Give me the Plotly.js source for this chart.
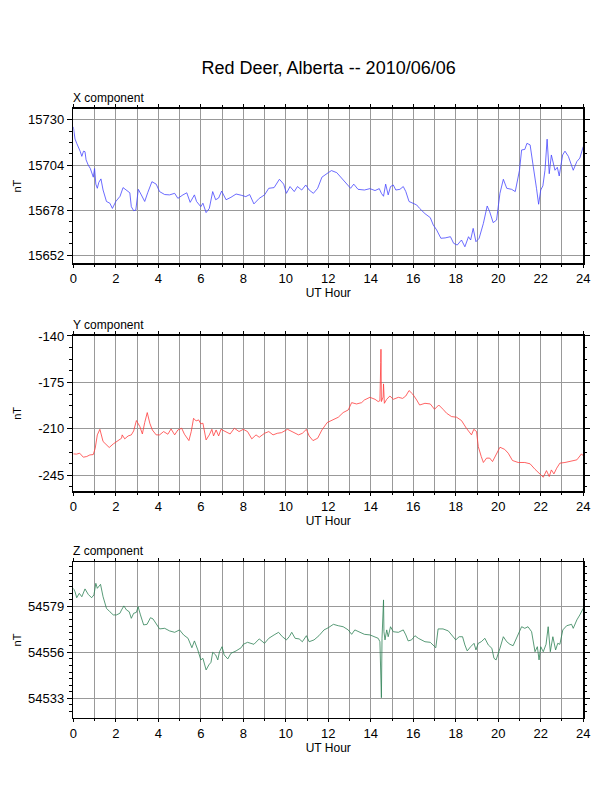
<!DOCTYPE html>
<html>
<head>
<meta charset="utf-8">
<script src="https://cdn.plot.ly/plotly-3.0.1.min.js"></script>
<style>
  body { margin: 0; background: #fff; }
  #plot { width: 612px; height: 792px; }
</style>
</head>
<body>
<div id="plot"></div>
<script>
// values, hour of day (UT) vs nT

// X component
let xHours = [0, 0.08, 0.16, 0.24, 0.32, 0.4, 0.48, 0.55, 0.6, 0.7, 0.8, 0.94, 1.0, 1.06, 1.13, 1.2, 1.3, 1.4, 1.56, 1.72, 1.84, 2.0, 2.2, 2.34, 2.5, 2.66, 2.73, 2.84, 2.94, 3.06, 3.2, 3.36, 3.5, 3.7, 3.9, 4.06, 4.3, 4.53, 4.77, 4.92, 5.16, 5.34, 5.5, 5.7, 5.8, 6.0, 6.1, 6.25, 6.4, 6.56, 6.7, 6.84, 6.98, 7.19, 7.42, 7.66, 7.9, 8.12, 8.3, 8.5, 8.75, 9.0, 9.2, 9.45, 9.7, 9.9, 10.03, 10.2, 10.4, 10.55, 10.75, 10.94, 11.1, 11.3, 11.5, 11.7, 12.0, 12.15, 12.4, 12.6, 12.86, 13.05, 13.2, 13.4, 13.7, 13.96, 14.2, 14.4, 14.5, 14.6, 14.7, 14.82, 14.93, 15.06, 15.18, 15.37, 15.53, 15.65, 15.8, 16.0, 16.16, 16.3, 16.55, 16.8, 16.94, 17.1, 17.3, 17.5, 17.75, 17.9, 18.07, 18.27, 18.43, 18.6, 18.7, 18.82, 18.95, 19.1, 19.3, 19.48, 19.6, 19.76, 19.92, 20.08, 20.24, 20.4, 20.63, 20.8, 20.9, 21.0, 21.1, 21.25, 21.35, 21.5, 21.65, 21.73, 21.8, 21.9, 22.0, 22.1, 22.2, 22.3, 22.4, 22.5, 22.67, 22.78, 22.87, 23.03, 23.14, 23.3, 23.53, 23.7, 23.84, 24.0];
let xValues = [15726, 15719, 15716.5, 15714.6, 15712, 15709, 15712, 15711.7, 15707, 15704, 15702, 15697, 15702, 15693, 15690.6, 15694, 15696, 15689.6, 15683, 15682, 15679, 15683, 15686, 15691, 15689.6, 15688, 15680, 15677.7, 15678, 15690, 15686.8, 15683, 15688, 15694.4, 15693, 15688.7, 15687, 15686.8, 15687.7, 15684.8, 15686.8, 15688, 15682.5, 15686.8, 15683, 15680, 15682, 15676.6, 15679, 15688.7, 15684, 15685, 15689, 15684, 15685.4, 15687.3, 15686.6, 15685.8, 15687, 15681.6, 15684.8, 15686.8, 15690.6, 15691, 15695.8, 15693, 15687.7, 15691.6, 15688.7, 15691.6, 15689.6, 15692.5, 15689.6, 15687.7, 15690.6, 15697, 15699.6, 15700.8, 15699.6, 15697, 15693.5, 15690.6, 15693, 15690, 15689.6, 15690.4, 15689.3, 15690.4, 15687.7, 15686, 15693, 15686.8, 15691.6, 15692.5, 15689.6, 15690, 15691.6, 15688.7, 15683, 15682, 15681, 15679, 15676, 15673.7, 15669.5, 15666.6, 15661.8, 15662, 15662.7, 15658.9, 15657.9, 15660.8, 15656.9, 15662.7, 15660.8, 15667.5, 15659.8, 15661.8, 15670.4, 15680.4, 15677, 15670.8, 15672.3, 15687.7, 15695.8, 15690.6, 15690, 15688.7, 15695.8, 15701, 15712.7, 15713, 15716.5, 15715.6, 15703, 15694.4, 15690.6, 15681.4, 15689.6, 15692, 15701, 15718.9, 15699, 15709.8, 15701, 15702.7, 15697.7, 15709.8, 15712, 15709, 15701, 15706, 15708, 15714.6];

// Y component
let yHours = [0, 0.15, 0.3, 0.47, 0.63, 0.78, 0.94, 1.03, 1.13, 1.25, 1.4, 1.56, 1.69, 1.88, 2.1, 2.27, 2.3, 2.42, 2.58, 2.73, 2.84, 2.97, 3.13, 3.25, 3.36, 3.48, 3.6, 3.72, 3.9, 4.06, 4.25, 4.45, 4.6, 4.77, 4.92, 5.1, 5.23, 5.44, 5.55, 5.66, 5.78, 5.9, 6.0, 6.1, 6.25, 6.4, 6.52, 6.6, 6.72, 6.84, 6.95, 7.19, 7.38, 7.58, 7.8, 8.0, 8.2, 8.4, 8.6, 8.75, 9.0, 9.2, 9.4, 9.6, 9.8, 10.08, 10.3, 10.6, 10.78, 10.97, 11.1, 11.28, 11.5, 11.7, 11.95, 12.24, 12.47, 12.7, 12.94, 13.1, 13.33, 13.57, 13.7, 13.96, 14.2, 14.35, 14.43, 14.47, 14.48, 14.5, 14.58, 14.6, 14.64, 14.75, 14.9, 15.06, 15.3, 15.5, 15.65, 15.8, 15.97, 16.16, 16.3, 16.55, 16.8, 17.0, 17.2, 17.4, 17.57, 17.8, 18.04, 18.27, 18.5, 18.74, 18.85, 18.98, 19.06, 19.2, 19.3, 19.45, 19.6, 19.73, 19.9, 20.08, 20.3, 20.47, 20.67, 20.94, 21.25, 21.5, 21.73, 21.96, 22.12, 22.27, 22.4, 22.5, 22.62, 22.75, 22.9, 23.14, 23.37, 23.7, 23.92, 24.0];
let yValues = [-228.8, -229, -228.3, -231.3, -230.8, -229.6, -229.3, -224.6, -214.5, -210.3, -219.5, -222, -224, -221.3, -218.8, -217, -214.5, -217.5, -215.3, -214.5, -211.5, -203.7, -208.2, -213.8, -205.2, -197.7, -205.7, -210.8, -214.5, -214.5, -212, -214, -210, -214.5, -210.8, -209.5, -214, -218.8, -212, -202, -204, -203.2, -206.2, -205.7, -218.3, -214.5, -210.3, -215.3, -210.8, -215.3, -210.3, -212, -213.8, -209.5, -212, -210.3, -212, -217.5, -214.5, -216.3, -213.3, -212, -214.5, -213.3, -212.8, -210.3, -212, -214.5, -213.3, -210.3, -215.3, -218.8, -217, -210.8, -205.2, -203.2, -201.2, -197.7, -195.7, -190.2, -191.2, -190.2, -188.2, -186.2, -187.7, -189.4, -188.7, -160, -150, -189.4, -186, -176.1, -190.7, -187.7, -185.2, -187.7, -186.2, -187, -185.2, -181.1, -183.7, -188.2, -192, -190.7, -191.2, -195.2, -192, -195.2, -198.2, -200.7, -201.2, -203.7, -209.5, -214.5, -210.3, -212, -223.3, -230.8, -235.3, -232, -232, -234.6, -229.6, -223.8, -225.4, -228.3, -233.8, -235.3, -235.3, -236.3, -240.4, -243.9, -246.4, -241.4, -245.9, -240.9, -243.9, -239.6, -235.8, -235.3, -234.6, -233.3, -228.8, -230.3];
// Y panel tick labels, written with a plain hyphen as in the original
let yTickVals = [-140, -175, -210, -245];
let yTickText = ['-140', '-175', '-210', '-245'];

// Z component
let zHours = [0, 0.08, 0.16, 0.28, 0.4, 0.55, 0.7, 0.86, 0.97, 1.06, 1.13, 1.28, 1.4, 1.56, 1.72, 1.88, 2.03, 2.19, 2.27, 2.38, 2.5, 2.63, 2.73, 2.84, 2.97, 3.05, 3.16, 3.31, 3.47, 3.63, 3.75, 3.9, 4.06, 4.3, 4.53, 4.77, 5.0, 5.19, 5.4, 5.58, 5.7, 5.86, 6.0, 6.1, 6.25, 6.38, 6.48, 6.56, 6.7, 6.8, 6.88, 7.0, 7.1, 7.27, 7.42, 7.66, 7.9, 8.0, 8.2, 8.5, 8.75, 9.0, 9.2, 9.45, 9.66, 9.84, 10.03, 10.16, 10.28, 10.44, 10.63, 10.78, 10.97, 11.1, 11.33, 11.56, 11.8, 12.0, 12.24, 12.47, 12.7, 12.94, 13.1, 13.25, 13.5, 13.7, 13.96, 14.2, 14.35, 14.43, 14.46, 14.5, 14.53, 14.56, 14.6, 14.62, 14.67, 14.75, 14.82, 14.93, 15.06, 15.3, 15.53, 15.65, 15.76, 15.92, 16.08, 16.24, 16.4, 16.55, 16.8, 16.94, 17.06, 17.17, 17.4, 17.65, 17.85, 18.0, 18.16, 18.32, 18.43, 18.54, 18.7, 18.86, 18.95, 19.06, 19.2, 19.37, 19.53, 19.7, 19.8, 19.9, 20.08, 20.24, 20.4, 20.55, 20.7, 20.94, 21.1, 21.25, 21.4, 21.57, 21.73, 21.84, 21.92, 22.0, 22.12, 22.25, 22.35, 22.45, 22.57, 22.7, 22.8, 22.9, 23.04, 23.22, 23.45, 23.53, 23.7, 23.84, 24.0];
let zValues = [54588, 54586.3, 54583.3, 54585.5, 54583.8, 54587.7, 54585, 54583.3, 54584.7, 54590.5, 54588, 54590, 54583.8, 54578, 54576.3, 54574.7, 54574.7, 54575.5, 54577.2, 54579.2, 54577.2, 54576.3, 54573, 54575.5, 54576, 54578.8, 54574.7, 54569.7, 54570, 54573.3, 54572.7, 54570.5, 54567.7, 54568, 54566.7, 54566, 54567.2, 54564.7, 54563, 54558.3, 54561.7, 54557.2, 54552.2, 54553, 54547.2, 54549.7, 54551, 54556, 54554.7, 54552.2, 54556.3, 54558.8, 54554.7, 54552.7, 54555.5, 54556.7, 54558.3, 54560, 54561, 54560, 54562.7, 54560.5, 54563, 54564.7, 54566, 54563.8, 54562.2, 54563.8, 54566, 54563, 54562.7, 54561.3, 54564.3, 54561.3, 54562.2, 54564.3, 54567.2, 54568.3, 54570, 54569.3, 54568.8, 54567.2, 54565, 54567.2, 54566, 54565, 54564.7, 54563.8, 54563, 54561.3, 54552.2, 54533.3, 54563, 54570.5, 54582.2, 54566.3, 54562.2, 54567.2, 54563.8, 54568.8, 54566.3, 54566, 54567.2, 54564.7, 54561.7, 54562.2, 54564.3, 54563, 54562.2, 54561.3, 54561, 54559.7, 54558.3, 54567.7, 54567.7, 54566.7, 54563.8, 54562.2, 54563.8, 54563.8, 54559.7, 54556.7, 54558.8, 54560.5, 54557.2, 54560.5, 54561.3, 54563, 54559.7, 54558, 54553, 54552.2, 54558, 54563.8, 54561.3, 54560, 54559.3, 54564.7, 54568.8, 54568, 54568.8, 54566.3, 54556.3, 54558.8, 54552.2, 54558.8, 54556.3, 54560, 54568.8, 54556.3, 54563.8, 54557.2, 54560.5, 54560, 54567.2, 54569.3, 54570, 54568, 54572.2, 54574.7, 54578];

let font = 'Liberation Sans, Arial, sans-serif';

// common settings for the hour axis of each panel
function hourAxis(anchor) {
    return {
        anchor: anchor,
        domain: [0.1198, 0.953],
        range: [0, 24],
        tick0: 0,
        dtick: 2,
        ticks: 'outside',
        ticklen: 3,
        tickcolor: '#000',
        showgrid: true,
        gridcolor: '#999',
        gridwidth: 1,
        minor: {dtick: 1, showgrid: true, gridcolor: '#999', gridwidth: 1, ticks: 'outside', ticklen: 2, tickcolor: '#000'},
        showline: true,
        linecolor: '#000',
        linewidth: 1.5,
        mirror: 'ticks',
        zeroline: false,
        tickfont: {family: font, size: 13, color: '#000'},
        title: {text: 'UT Hour', font: {family: font, size: 12, color: '#000'}, standoff: 2}
    };
}

// nT axis, major ticks with grid, minor ticks only
function valueAxis(anchor, domain, range, tick0, dtick, minorStep, standoff) {
    return {
        anchor: anchor,
        domain: domain,
        range: range,
        tick0: tick0,
        dtick: dtick,
        tickformat: 'd',
        exponentformat: 'none',
        separatethousands: false,
        ticks: 'outside',
        ticklen: 5,
        tickcolor: '#000',
        showgrid: true,
        gridcolor: '#999',
        gridwidth: 1,
        minor: {tick0: tick0, dtick: minorStep, ticks: 'outside', ticklen: 2.5, tickcolor: '#000', showgrid: false},
        showline: true,
        linecolor: '#000',
        linewidth: 1.5,
        mirror: 'ticks',
        zeroline: false,
        tickfont: {family: font, size: 13, color: '#000'},
        title: {text: 'nT', font: {family: font, size: 11, color: '#000'}, standoff: standoff}
    };
}

let traces = [
    {x: xHours, y: xValues, xaxis: 'x', yaxis: 'y', type: 'scatter', mode: 'lines',
        line: {color: 'rgb(70,70,255)', width: 0.8}},
    {x: yHours, y: yValues, xaxis: 'x2', yaxis: 'y2', type: 'scatter', mode: 'lines',
        line: {color: 'rgb(255,60,60)', width: 0.8}},
    {x: zHours, y: zValues, xaxis: 'x3', yaxis: 'y3', type: 'scatter', mode: 'lines',
        line: {color: 'rgb(46,130,85)', width: 0.8}}
];

let yAxis2 = valueAxis('x2', [0.380, 0.5761], [-256.8, -139.8], -245, 35, 8.75, 14);
yAxis2.tickmode = 'array';
yAxis2.tickvals = yTickVals;
yAxis2.ticktext = yTickText;

let panelLabel = {family: font, size: 12, color: '#000'};

let layout = {
    width: 612,
    height: 792,
    margin: {l: 0, r: 0, t: 0, b: 0},
    paper_bgcolor: '#fff',
    plot_bgcolor: '#fff',
    showlegend: false,
    title: {text: 'Red Deer, Alberta -- 2010/06/06', font: {family: font, size: 18, color: '#000'},
        x: 0.537, xanchor: 'center', y: 0.915, yanchor: 'middle'},
    xaxis: hourAxis('y'),
    yaxis: valueAxis('x', [0.6676, 0.8624], [15647.4, 15736.3], 15652, 26, 6.5, 4),
    xaxis2: hourAxis('y2'),
    yaxis2: yAxis2,
    xaxis3: hourAxis('y3'),
    yaxis3: valueAxis('x3', [0.0938, 0.29], [54523.3, 54601], 54533, 23, 23 / 7, 4),
    annotations: [
        {text: 'X component', x: 0.1198, y: 0.8624, xref: 'paper', yref: 'paper', xanchor: 'left', yanchor: 'bottom', xshift: -2, yshift: 2, showarrow: false, font: panelLabel},
        {text: 'Y component', x: 0.1198, y: 0.5761, xref: 'paper', yref: 'paper', xanchor: 'left', yanchor: 'bottom', xshift: -2, yshift: 2, showarrow: false, font: panelLabel},
        {text: 'Z component', x: 0.1198, y: 0.29, xref: 'paper', yref: 'paper', xanchor: 'left', yanchor: 'bottom', xshift: -2, yshift: 2, showarrow: false, font: panelLabel}
    ]
};

Plotly.newPlot('plot', traces, layout, {staticPlot: true});
</script>
</body>
</html>
